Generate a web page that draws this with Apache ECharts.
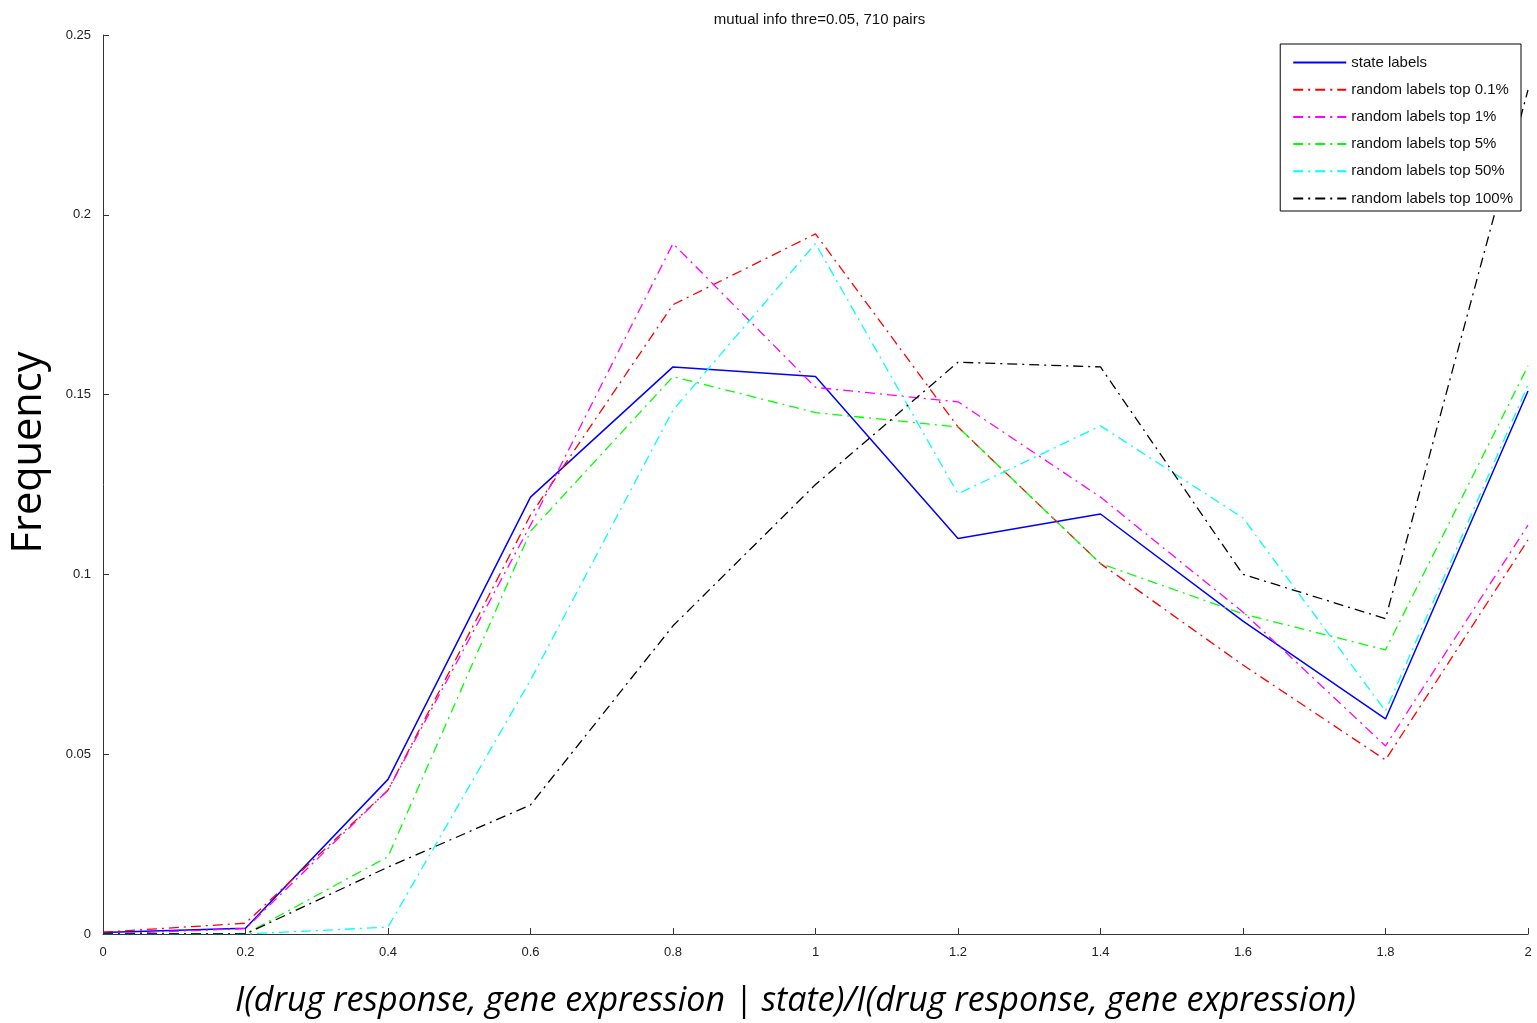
<!DOCTYPE html>
<html>
<head>
<meta charset="utf-8">
<script src="https://cdn.jsdelivr.net/npm/echarts@6/dist/echarts.min.js"></script>
<style>
  html, body { margin: 0; padding: 0; background: #fff; }
  #chart { width: 1537px; height: 1023px; }
</style>
</head>
<body>
<div id="chart"></div>
<script>
// Bin centres of the information ratio
var ratioBins = [0, 0.2, 0.4, 0.6, 0.8, 1.0, 1.2, 1.4, 1.6, 1.8, 2.0];

// Frequency per bin for each labelling
var stateLabels   = [0.0004, 0.0016, 0.043, 0.1215, 0.1577, 0.155, 0.110, 0.1168, 0.087, 0.0598, 0.151];
var randTop0_1    = [0.0005, 0.003, 0.040, 0.1165, 0.175, 0.1947, 0.141, 0.103, 0.0748, 0.0484, 0.1096];
var randTop1      = [0.0, 0.0015, 0.040, 0.1137, 0.192, 0.152, 0.148, 0.1215, 0.0895, 0.0523, 0.1137];
var randTop5      = [0.0, 0.0, 0.0215, 0.112, 0.155, 0.145, 0.141, 0.103, 0.089, 0.079, 0.158];
var randTop50     = [0.0, 0.0, 0.0019, 0.0706, 0.1457, 0.192, 0.1224, 0.1413, 0.1157, 0.062, 0.1527];
var randTop100    = [0.0, 0.0, 0.0186, 0.0359, 0.0857, 0.125, 0.159, 0.1577, 0.100, 0.0877, 0.2347];

var seriesNames = [
  'state labels',
  'random labels top 0.1%',
  'random labels top 1%',
  'random labels top 5%',
  'random labels top 50%',
  'random labels top 100%'
];
var seriesValues = [stateLabels, randTop0_1, randTop1, randTop5, randTop50, randTop100];
var seriesColors = ['#0000ff', '#ff0000', '#ff00ff', '#00ff00', '#00ffff', '#000000'];

var dashDot = [10, 5, 2, 5];

function pairs(vals) {
  return vals.map(function (v, i) { return [ratioBins[i], v]; });
}

var series = seriesNames.map(function (name, k) {
  return {
    name: name,
    type: 'line',
    data: pairs(seriesValues[k]),
    symbol: 'none',
    animation: false,
    z: 2,
    lineStyle: {
      color: seriesColors[k],
      width: k === 0 ? 1.5 : 1.3,
      type: k === 0 ? 'solid' : dashDot
    },
    itemStyle: { color: seriesColors[k] }
  };
});

var tickFont = { fontFamily: 'Liberation Sans, Arial, sans-serif', fontSize: 13, color: '#222' };

var chart = echarts.init(document.getElementById('chart'), null, { renderer: 'canvas' });
chart.setOption({
  backgroundColor: '#ffffff',
  animation: false,
  title: {
    text: 'mutual info thre=0.05, 710 pairs',
    left: 814.5,
    top: 7,
    textAlign: 'center',
    textStyle: { fontFamily: 'Liberation Sans, Arial, sans-serif', fontSize: 15, fontWeight: 'normal', color: '#111' }
  },
  grid: { left: 103, right: 9, top: 35, bottom: 89, outerBoundsMode: 'none', containLabel: false },
  legend: {
    orient: 'vertical',
    right: 16,
    top: 44,
    padding: [11, 8, 5, 12],
    itemWidth: 53,
    itemHeight: 12,
    itemGap: 12.2,
    backgroundColor: '#ffffff',
    borderColor: '#000000',
    borderWidth: 1,
    borderRadius: 0,
    z: 10,
    itemStyle: { opacity: 0 },
    textStyle: { fontFamily: 'Liberation Sans, Arial, sans-serif', fontSize: 15, color: '#111', padding: [0, 0, 0, 0] },
    data: seriesNames
  },
  xAxis: {
    type: 'value',
    min: 0,
    max: 2,
    interval: 0.2,
    name: 'I(drug response, gene expression | state)/I(drug response, gene expression)',
    nameLocation: 'middle',
    nameGap: 50,
    nameTextStyle: {
      fontFamily: 'Open Sans, sans-serif',
      fontStyle: 'italic',
      fontSize: 34,
      color: '#000',
      padding: [0, 40, 0, 0]
    },
    axisLine: { show: true, onZero: false, lineStyle: { color: '#333', width: 1 } },
    axisTick: { show: true, inside: true, length: 6, lineStyle: { color: '#333' } },
    axisLabel: Object.assign({ margin: 12 }, tickFont),
    splitLine: { show: false }
  },
  yAxis: {
    type: 'value',
    min: 0,
    max: 0.25,
    interval: 0.05,
    name: 'Frequency',
    nameLocation: 'middle',
    nameGap: 53,
    nameRotate: 90,
    nameTextStyle: {
      fontFamily: 'Open Sans, sans-serif',
      fontSize: 41.5,
      color: '#000',
      padding: [0, 0, 0, 64]
    },
    axisLine: { show: true, lineStyle: { color: '#333', width: 1 } },
    axisTick: { show: true, inside: true, length: 6, lineStyle: { color: '#333' } },
    axisLabel: Object.assign({ margin: 12 }, tickFont),
    splitLine: { show: false }
  },
  series: series
});
</script>
</body>
</html>
